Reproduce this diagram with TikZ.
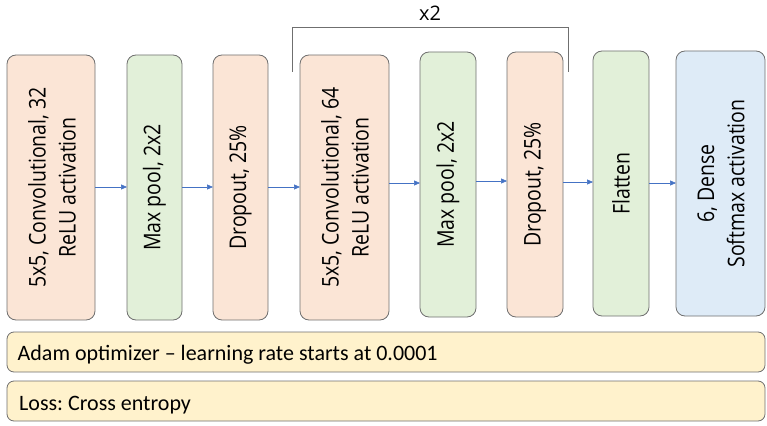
\documentclass[tikz,border=0pt]{standalone}
\usepackage{fontspec}
\setmainfont{Open Sans}
\newfontfamily\notefont[Ligatures=TeX]{Carlito}
\usetikzlibrary{arrows.meta}
\definecolor{peach}{HTML}{FBE5D6}
\definecolor{mint}{HTML}{E2F0D9}
\definecolor{sky}{HTML}{DEEBF7}
\definecolor{cream}{HTML}{FFF2CC}
\definecolor{edge}{HTML}{6F6F6F}
\definecolor{flow}{HTML}{4472C4}
\frenchspacing
\begin{document}
\begin{tikzpicture}[x=1pt,y=-1pt,
  layer/.style={draw=edge,line width=0.8pt,rounded corners=9pt,inner sep=0pt},
  vlabel/.style={rotate=90,yscale=1.18,transform shape,inner sep=0pt,
    font=\fontsize{19.5}{25.5}\selectfont,align=center},
  note/.style={draw=edge,line width=0.8pt,rounded corners=7pt,fill=cream},
  notetext/.style={anchor=base west,inner sep=0pt,
    font=\notefont\fontsize{22}{26}\selectfont},
  flowarrow/.style={draw=flow,line width=0.6pt,-{Triangle[length=6pt,width=5pt]}}]
\useasboundingbox (0,0) rectangle (767,425);
% layer boxes
\path[layer,fill=peach] (7,55) rectangle (95,320);
\node[vlabel] (c1) at (52,187.5) {5x5, Convolutional, 32\\ReLU activation};
\path[layer,fill=mint] (127,55) rectangle (182,320);
\node[vlabel] (p1) at (154.5,187.5) {Max pool, 2x2};
\path[layer,fill=peach] (213,55) rectangle (268,320);
\node[vlabel] (d1) at (240.5,187.5) {Dropout, 25\%};
\path[layer,fill=peach] (300,55) rectangle (389,320);
\node[vlabel] (c2) at (345,187.5) {5x5, Convolutional, 64\\ReLU activation};
\path[layer,fill=mint] (420,52) rectangle (476,317);
\node[vlabel] (p2) at (448,184.5) {Max pool, 2x2};
\path[layer,fill=peach] (507,52) rectangle (563,317);
\node[vlabel] (d2) at (535,184.5) {Dropout, 25\%};
\path[layer,fill=mint] (593,51) rectangle (649,316);
\node[vlabel] (fl) at (621,183.5) {Flatten};
\path[layer,fill=sky] (676,51) rectangle (765,316);
\node[vlabel] (de) at (721,183.5) {6, Dense\\Softmax activation};
% connectors
\coordinate (a1) at (95,187); \coordinate (b1) at (127,187);
\coordinate (a2) at (182,187); \coordinate (b2) at (213,187);
\coordinate (a3) at (268,187); \coordinate (b3) at (300,187);
\coordinate (a4) at (389,183); \coordinate (b4) at (420,183);
\coordinate (a5) at (476,181); \coordinate (b5) at (507,181);
\coordinate (a6) at (563,182); \coordinate (b6) at (593,182);
\coordinate (a7) at (649,183); \coordinate (b7) at (676,183);
\foreach \i in {1,...,7} \draw[flowarrow] (a\i) -- (b\i);
% repeat bracket
\coordinate (bl) at (292,72); \coordinate (br) at (568,72);
\draw[edge,line width=0.8pt] (bl) -- (292,27) -- (568,27) -- (br);
\node[font=\fontsize{20}{24}\selectfont] (rep) at (430,13) {x2};
% training settings
\path[note] (7,332) rectangle (765,372);
\node[notetext] (opt) at (17.5,360) {Adam optimizer – learning rate starts at 0.0001};
\path[note] (7,381) rectangle (765,421);
\node[notetext] (loss) at (19,410) {Loss: Cross entropy};
\end{tikzpicture}
\end{document}
